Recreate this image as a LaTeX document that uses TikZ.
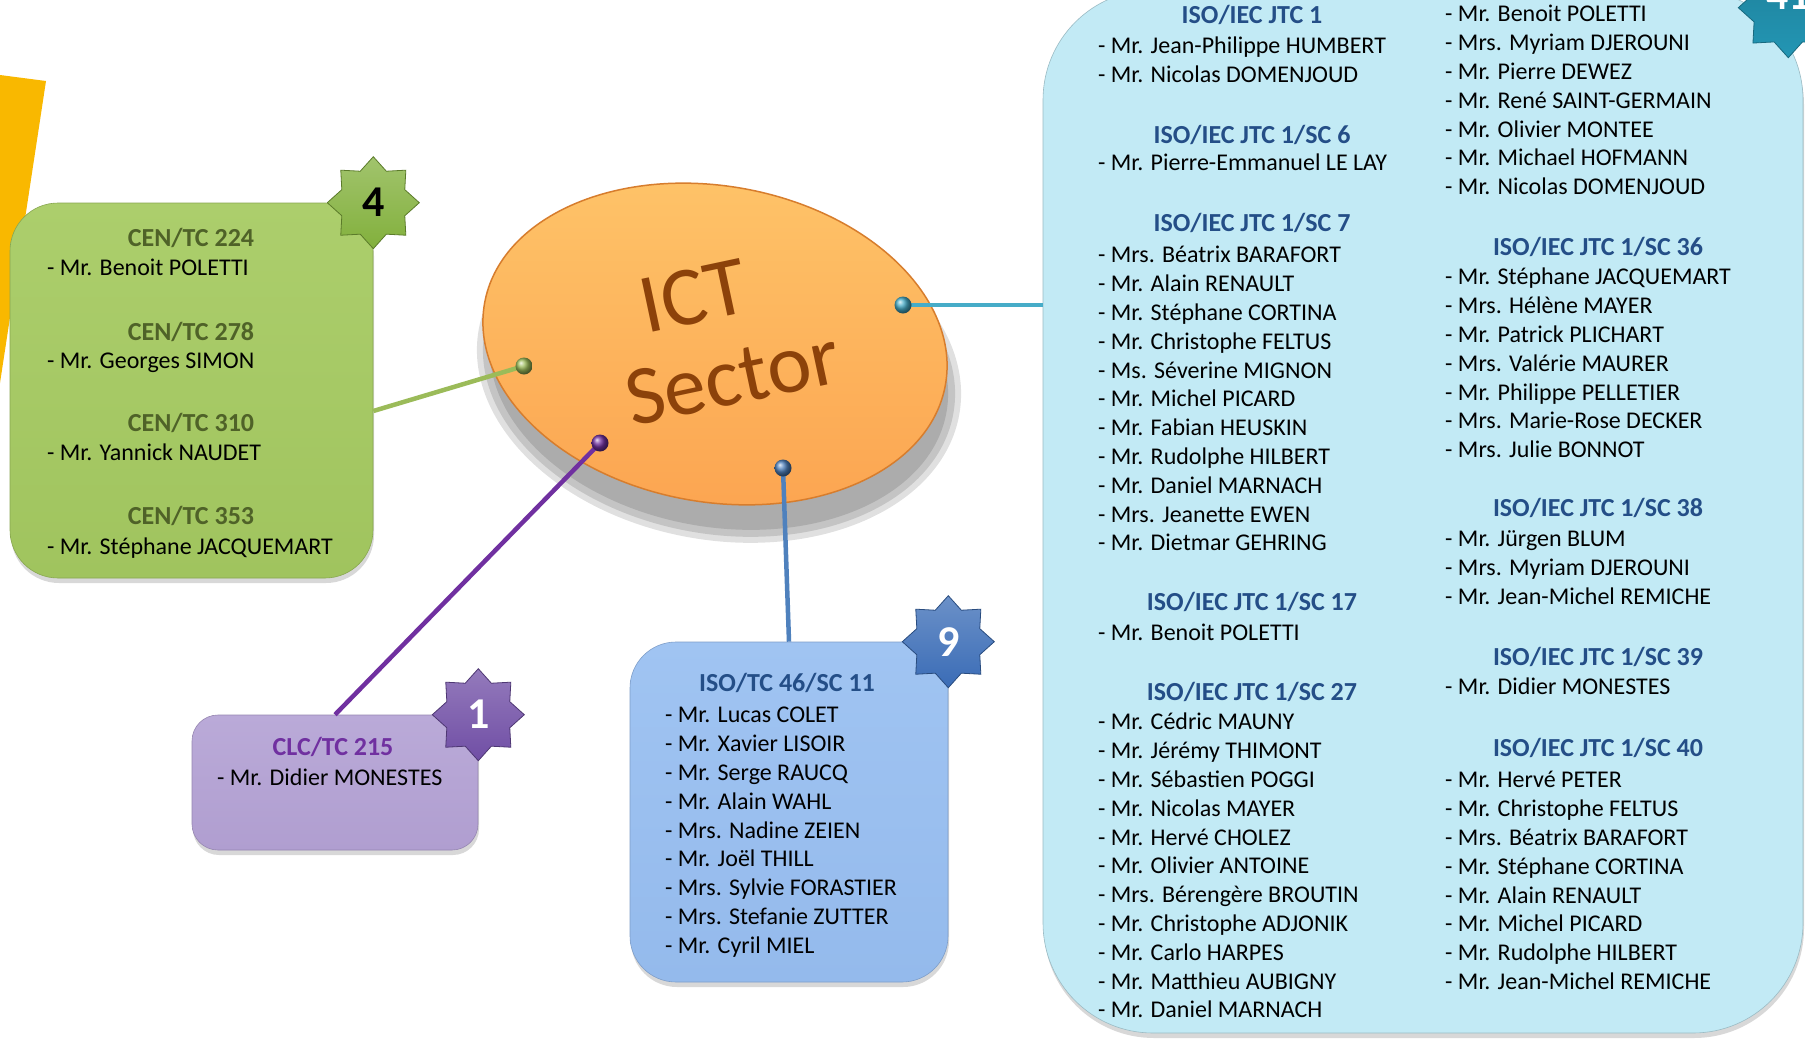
\documentclass[tikz,border=0pt]{standalone}
\usepackage{fontspec}
\setmainfont{Carlito}
\usepackage{tikz}
\usetikzlibrary{shapes.geometric,shadows,calc}

\definecolor{goldbar}{RGB}{249,184,0}
\definecolor{cengreen}{RGB}{160,196,94}
\definecolor{cengreentop}{RGB}{172,206,108}
\definecolor{cenhead}{RGB}{79,98,40}
\definecolor{clcpurple}{RGB}{176,158,208}
\definecolor{clcpurpletop}{RGB}{186,170,216}
\definecolor{clchead}{RGB}{112,48,160}
\definecolor{tcblue}{RGB}{148,186,236}
\definecolor{tcbluetop}{RGB}{160,196,242}
\definecolor{isohead}{RGB}{36,78,135}
\definecolor{jtccyan}{RGB}{194,234,245}
\definecolor{icttop}{RGB}{254,196,105}
\definecolor{ictorange}{RGB}{252,166,82}
\definecolor{ictrim}{RGB}{215,125,45}
\definecolor{ictbrown}{RGB}{140,66,10}
\definecolor{stargreen}{RGB}{130,176,60}
\definecolor{starpurple}{RGB}{112,78,165}
\definecolor{starblue}{RGB}{58,108,182}
\definecolor{starteal}{RGB}{35,150,180}
\definecolor{greenline}{RGB}{155,187,89}
\definecolor{purpleline}{RGB}{112,48,160}
\definecolor{blueline}{RGB}{79,129,189}
\definecolor{cyanline}{RGB}{70,172,200}

\tikzset{
  boxpanel/.style={rectangle, inner sep=0pt, line width=0.6pt,
    drop shadow={opacity=0.3, shadow xshift=1pt, shadow yshift=-5pt}},
  sctitle/.style={anchor=base, inner sep=0pt, text=#1,
    font=\fontsize{26}{30}\selectfont\bfseries},
  expertlist/.style={anchor=north west, align=left, inner sep=0pt,
    font=\fontsize{24}{28.8}\selectfont},
  badgestar/.style={star, star points=8, star point ratio=1.35,
    minimum size=92, inner sep=0pt, draw=#1!70!black, line width=0.8pt,
    top color=#1!75!white, bottom color=#1,
    font=\fontsize{44}{44}\selectfont\bfseries},
  knob/.style={circle, inner sep=0pt, minimum size=17, ball color=#1},
  linkline/.style={line width=4.5pt}
}

\begin{document}
\begin{tikzpicture}[x=1pt,y=-1pt]
\useasboundingbox (0,0) rectangle (1805,1039);
\fill[white] (0,0) rectangle (1805,1039);

% gold bar on the left
\fill[goldbar] (0,75) -- (46,81) -- (0,383) -- cycle;

% the four boxes
\node[boxpanel, rounded corners=48, draw=cengreen!85!black,
  top color=cengreentop, bottom color=cengreen,
  minimum width=363, minimum height=375] (cen) at (191.5,390.5) {};
\node[boxpanel, rounded corners=26, draw=clcpurple!85!black,
  top color=clcpurpletop, bottom color=clcpurple,
  minimum width=286, minimum height=135] (clc) at (335,782.5) {};
\node[boxpanel, rounded corners=46, draw=tcblue!85!black,
  top color=tcbluetop, bottom color=tcblue,
  minimum width=318, minimum height=340] (tc46) at (789,812) {};
\node[boxpanel, rounded corners=110, draw=jtccyan!80!black, fill=jtccyan,
  minimum width=760, minimum height=1043] (jtc) at (1423,511.5) {};

% ICT sector ellipse with its shadow
\fill[black, opacity=0.12, rotate around={-10:(719,372)}] (719,372) ellipse (244 and 168);
\fill[black, opacity=0.12, rotate around={-10:(719,372)}] (719,372) ellipse (238 and 162);
\fill[black, opacity=0.12, rotate around={-10:(719,372)}] (719,372) ellipse (231 and 155);
\node[ellipse, minimum width=468, minimum height=316, rotate=-10,
  top color=icttop, bottom color=ictorange, draw=ictrim, line width=1.5pt] (ict) at (715,344) {};
\node[rotate=12, align=center, text=ictbrown, inner sep=0pt,
  font=\fontsize{84}{88}\selectfont] (ictword) at (703,339) {ICT\\\hspace*{42pt}Sector};

% connectors
\coordinate (gdot) at (524,366);
\coordinate (pdot) at (600,443);
\coordinate (bdot) at (783,468);
\coordinate (cdot) at (903,305);
\draw[linkline, greenline] ([yshift=-20.5pt]cen.east) -- (gdot);
\draw[linkline, purpleline] (clc.north) -- (pdot);
\draw[linkline, blueline] (tc46.north) -- (bdot);
\draw[linkline, cyanline] (cdot) -- (cdot -| jtc.west);
\node[knob=greenline] at (gdot) {};
\node[knob=purpleline] at (pdot) {};
\node[knob=blueline] at (bdot) {};
\node[knob=cyanline] at (cdot) {};

% CEN
\node[sctitle=cenhead] (tc224) at (191,246.4) {CEN/TC 224};
\node[expertlist] (tc224list) at (47,255.6) {\strut- Mr. Benoit POLETTI};
\node[sctitle=cenhead] (tc278) at (191,340.4) {CEN/TC 278};
\node[expertlist] (tc278list) at (47,348.6) {\strut- Mr. Georges SIMON};
\node[sctitle=cenhead] (tc310) at (191,431.4) {CEN/TC 310};
\node[expertlist] (tc310list) at (47,440.6) {\strut- Mr. Yannick NAUDET};
\node[sctitle=cenhead] (tc353) at (191,524.4) {CEN/TC 353};
\node[expertlist] (tc353list) at (47,534.6) {\strut- Mr. Stéphane JACQUEMART};

% CLC
\node[sctitle=clchead] (tc215) at (333,755.4) {CLC/TC 215};
\node[expertlist] (tc215list) at (217,765.6) {\strut- Mr. Didier MONESTES};

% ISO/TC 46
\node[sctitle=isohead] (sc11) at (787,691.4) {ISO/TC 46/SC 11};
\node[expertlist] (sc11list) at (665,702.6) {\strut- Mr. Lucas COLET\\- Mr. Xavier LISOIR\\
  - Mr. Serge RAUCQ\\- Mr. Alain WAHL\\- Mrs. Nadine ZEIEN\\- Mr. Joël THILL\\
  - Mrs. Sylvie FORASTIER\\- Mrs. Stefanie ZUTTER\\- Mr. Cyril MIEL};

% ISO/IEC JTC 1, left column
\node[sctitle=isohead] (jtc1) at (1252,23.4) {ISO/IEC JTC 1};
\node[expertlist] (jtc1list) at (1098,33.6) {\strut- Mr. Jean-Philippe HUMBERT\\- Mr. Nicolas DOMENJOUD};
\node[sctitle=isohead] (sc6) at (1252,143.4) {ISO/IEC JTC 1/SC 6};
\node[expertlist] (sc6list) at (1098,150.6) {\strut- Mr. Pierre-Emmanuel LE LAY};
\node[sctitle=isohead] (sc7) at (1252,231.4) {ISO/IEC JTC 1/SC 7};
\node[expertlist] (sc7list) at (1098,242.6) {\strut- Mrs. Béatrix BARAFORT\\- Mr. Alain RENAULT\\
  - Mr. Stéphane CORTINA\\- Mr. Christophe FELTUS\\- Ms. Séverine MIGNON\\
  - Mr. Michel PICARD\\- Mr. Fabian HEUSKIN\\- Mr. Rudolphe HILBERT\\
  - Mr. Daniel MARNACH\\- Mrs. Jeanette EWEN\\- Mr. Dietmar GEHRING};
\node[sctitle=isohead] (sc17) at (1252,610.4) {ISO/IEC JTC 1/SC 17};
\node[expertlist] (sc17list) at (1098,620.6) {\strut- Mr. Benoit POLETTI};
\node[sctitle=isohead] (sc27) at (1252,700.4) {ISO/IEC JTC 1/SC 27};
\node[expertlist] (sc27list) at (1098,709.6) {\strut- Mr. Cédric MAUNY\\- Mr. Jérémy THIMONT\\
  - Mr. Sébastien POGGI\\- Mr. Nicolas MAYER\\- Mr. Hervé CHOLEZ\\
  - Mr. Olivier ANTOINE\\- Mrs. Bérengère BROUTIN\\- Mr. Christophe ADJONIK\\
  - Mr. Carlo HARPES\\- Mr. Matthieu AUBIGNY\\- Mr. Daniel MARNACH};

% ISO/IEC JTC 1, right column
\node[expertlist] (sc27more) at (1445,1.6) {\strut- Mr. Benoit POLETTI\\- Mrs. Myriam DJEROUNI\\
  - Mr. Pierre DEWEZ\\- Mr. René SAINT-GERMAIN\\- Mr. Olivier MONTEE\\
  - Mr. Michael HOFMANN\\- Mr. Nicolas DOMENJOUD};
\node[sctitle=isohead] (sc36) at (1598,255.4) {ISO/IEC JTC 1/SC 36};
\node[expertlist] (sc36list) at (1445,264.6) {\strut- Mr. Stéphane JACQUEMART\\- Mrs. Hélène MAYER\\
  - Mr. Patrick PLICHART\\- Mrs. Valérie MAURER\\- Mr. Philippe PELLETIER\\
  - Mrs. Marie-Rose DECKER\\- Mrs. Julie BONNOT};
\node[sctitle=isohead] (sc38) at (1598,516.4) {ISO/IEC JTC 1/SC 38};
\node[expertlist] (sc38list) at (1445,526.6) {\strut- Mr. Jürgen BLUM\\- Mrs. Myriam DJEROUNI\\
  - Mr. Jean-Michel REMICHE};
\node[sctitle=isohead] (sc39) at (1598,665.4) {ISO/IEC JTC 1/SC 39};
\node[expertlist] (sc39list) at (1445,674.6) {\strut- Mr. Didier MONESTES};
\node[sctitle=isohead] (sc40) at (1598,756.4) {ISO/IEC JTC 1/SC 40};
\node[expertlist] (sc40list) at (1445,767.6) {\strut- Mr. Hervé PETER\\- Mr. Christophe FELTUS\\
  - Mrs. Béatrix BARAFORT\\- Mr. Stéphane CORTINA\\- Mr. Alain RENAULT\\
  - Mr. Michel PICARD\\- Mr. Rudolphe HILBERT\\- Mr. Jean-Michel REMICHE};

% badges
\node[badgestar=stargreen, text=black] (cenbadge) at (cen.north east) {4};
\node[badgestar=starpurple, text=white] (clcbadge) at (clc.north east) {1};
\node[badgestar=starblue, text=white] (tc46badge) at (tc46.north east) {9};
\node[badgestar=starteal, text=white, minimum size=100, top color=starteal!85!black,
  bottom color=starteal] (jtcbadge) at ([shift={(-15,18)}]jtc.north east) {\smash{\raisebox{-2pt}{41}}};
\end{tikzpicture}
\end{document}
